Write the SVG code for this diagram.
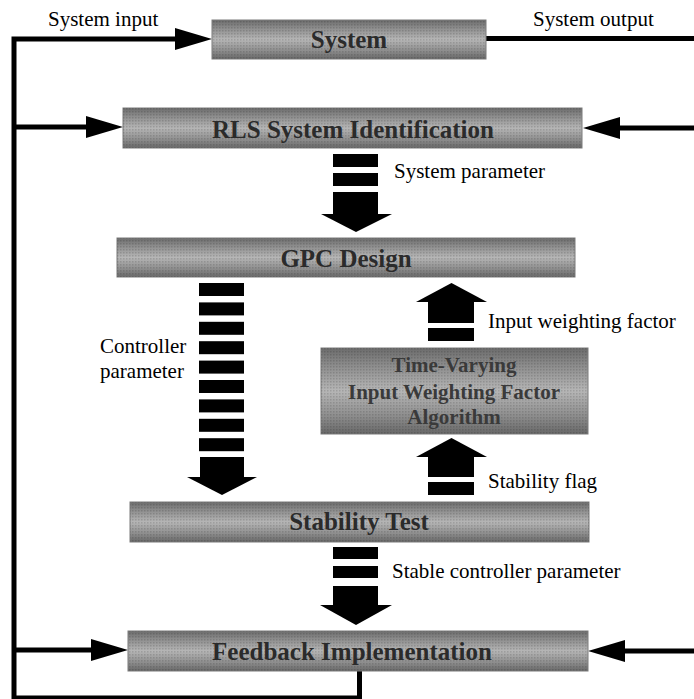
<svg xmlns="http://www.w3.org/2000/svg" width="694" height="699" viewBox="0 0 694 699">
<defs>
<linearGradient id="cyl" x1="0" y1="0" x2="0" y2="1">
<stop offset="0" stop-color="#6c6c6c"/>
<stop offset="0.2" stop-color="#8c8c8c"/>
<stop offset="0.5" stop-color="#b6b6b6"/>
<stop offset="0.8" stop-color="#8c8c8c"/>
<stop offset="1" stop-color="#686868"/>
</linearGradient>
<pattern id="dots" width="3" height="3" patternUnits="userSpaceOnUse">
<rect width="1.5" height="1.5" fill="#000" fill-opacity="0.13"/>
</pattern>
<marker id="ah" markerUnits="userSpaceOnUse" markerWidth="37" markerHeight="22" viewBox="0 0 37 22" refX="0" refY="11" orient="auto">
<path d="M0,0 L37,11 L0,22 Z" fill="#000"/>
</marker>
</defs>
<style>
.box{fill:url(#cyl);stroke:#7a7a7a;stroke-width:1}
.tex{fill:url(#dots)}
.bt{font-family:"Liberation Serif","Times New Roman",serif;font-weight:bold;font-size:25px;fill:#2b2b2b;text-anchor:middle}
.bt2{font-family:"Liberation Serif","Times New Roman",serif;font-weight:bold;font-size:21px;fill:#3a3a3a;text-anchor:middle}
.lbl{font-family:"Liberation Serif","Times New Roman",serif;font-size:21px;fill:#000}
.ln{fill:none;stroke:#000;stroke-width:5;stroke-linejoin:miter}
.blk{fill:#000}
</style>

<g id="connectors">
<path class="ln" d="M359.5,671 V698 H14 V39 H175" marker-end="url(#ah)"/>
<path class="ln" d="M14,127 H86" marker-end="url(#ah)"/>
<path class="ln" d="M14,650 H91" marker-end="url(#ah)"/>
<path class="ln" d="M486,38.5 H694"/>
<path class="ln" d="M694,128 H620" marker-end="url(#ah)"/>
<path class="ln" d="M694,651 H625" marker-end="url(#ah)"/>

<g id="arrow-system-parameter" class="blk">
<rect x="333" y="154" width="45" height="13"/>
<rect x="333" y="173" width="45" height="13"/>
<rect x="333" y="192" width="45" height="22"/>
<polygon points="321,214 392,214 356,232"/>
</g>
<g id="arrow-controller-parameter" class="blk">
<rect x="199" y="283" width="45" height="13"/>
<rect x="199" y="302.4" width="45" height="13"/>
<rect x="199" y="321.8" width="45" height="13"/>
<rect x="199" y="341.2" width="45" height="13"/>
<rect x="199" y="360.6" width="45" height="13"/>
<rect x="199" y="380" width="45" height="13"/>
<rect x="199" y="399.4" width="45" height="13"/>
<rect x="199" y="418.8" width="45" height="13"/>
<rect x="199" y="438.2" width="45" height="13"/>
<rect x="200" y="457" width="44" height="20"/>
<polygon points="187,477 257,477 222,495"/>
</g>
<g id="arrow-input-weighting" class="blk">
<rect x="428" y="328" width="46" height="13"/>
<rect x="428" y="302" width="46" height="21"/>
<polygon points="416,302 487,302 451.5,283"/>
</g>
<g id="arrow-stability-flag" class="blk">
<rect x="428" y="482" width="46" height="13"/>
<rect x="428" y="457" width="46" height="20"/>
<polygon points="416,457 487,457 451.5,438"/>
</g>
<g id="arrow-stable-parameter" class="blk">
<rect x="333" y="547" width="45" height="12"/>
<rect x="333" y="566" width="45" height="12"/>
<rect x="333" y="586" width="45" height="19"/>
<polygon points="320,605 392,605 356,625"/>
</g>

<text class="lbl" x="48" y="26">System input</text>
<text class="lbl" x="533" y="26">System output</text>
<text class="lbl" x="394" y="178">System parameter</text>
<text class="lbl" x="488" y="328">Input weighting factor</text>
<text class="lbl" x="100" y="353">Controller</text>
<text class="lbl" x="100" y="378">parameter</text>
<text class="lbl" x="488" y="488">Stability flag</text>
<text class="lbl" x="392" y="578">Stable controller parameter</text>
</g>

<g id="system">
<rect class="box" x="212" y="20" width="274" height="39"/>
<rect class="tex" x="212" y="20" width="274" height="39"/>
<text class="bt" x="349" y="48">System</text>
</g>
<g id="rls">
<rect class="box" x="123" y="108" width="459" height="40"/>
<rect class="tex" x="123" y="108" width="459" height="40"/>
<text class="bt" x="353" y="138">RLS System Identification</text>
</g>
<g id="gpc">
<rect class="box" x="117" y="238" width="458" height="39"/>
<rect class="tex" x="117" y="238" width="458" height="39"/>
<text class="bt" x="346" y="267">GPC Design</text>
</g>
<g id="tviwf">
<rect class="box" x="321" y="348" width="267" height="86"/>
<rect class="tex" x="321" y="348" width="267" height="86"/>
<text class="bt2" x="454" y="372">Time-Varying</text>
<text class="bt2" x="454" y="399">Input Weighting Factor</text>
<text class="bt2" x="454" y="424">Algorithm</text>
</g>
<g id="stability">
<rect class="box" x="130" y="502" width="459" height="40"/>
<rect class="tex" x="130" y="502" width="459" height="40"/>
<text class="bt" x="359" y="530">Stability Test</text>
</g>
<g id="feedback">
<rect class="box" x="128" y="631" width="460" height="40"/>
<rect class="tex" x="128" y="631" width="460" height="40"/>
<text class="bt" x="352" y="660">Feedback Implementation</text>
</g>
</svg>
